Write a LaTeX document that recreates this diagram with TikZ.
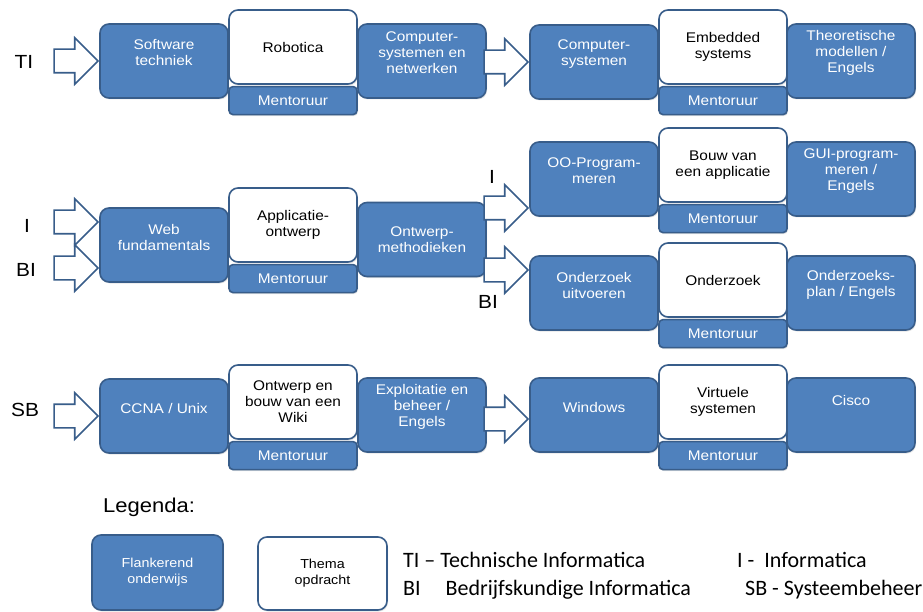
\documentclass[tikz,border=0pt]{standalone}
\usepackage{fontspec}
\setmainfont[FakeStretch=1.1]{Liberation Sans}
\newfontfamily\legfont[Ligatures=TeX]{Carlito}
\usetikzlibrary{positioning,shapes.arrows,shadows}
\definecolor{blauw}{HTML}{4F81BD}
\definecolor{rand}{HTML}{385D8A}

\begin{document}
\begin{tikzpicture}[x=1pt,y=-1pt,font=\fontsize{14}{16}\selectfont]
\tikzstyle{vak}=[rectangle, rounded corners=9pt, draw=rand, line width=1.6pt, fill=blauw, minimum width=128pt, minimum height=74pt, drop shadow={shadow xshift=1pt, shadow yshift=-1.5pt, opacity=0.2}]
\tikzstyle{vaktekst}=[text=white, align=center, yshift=8pt]
\tikzset{flank/.style={vak, label={[vaktekst]center:#1}}}
\tikzstyle{thema}=[vak, fill=white, text=black, align=center]
\tikzstyle{mentor}=[vak, rounded corners=4pt, minimum height=28pt, text=white]
\tikzstyle{pijl}=[single arrow, draw=rand, fill=white, line width=1.6pt, inner sep=11pt, single arrow head extend=11.5pt, minimum height=44pt, anchor=tip]
\tikzstyle{rij}=[font=\fontsize{19}{21}\selectfont]
\tikzstyle{leg}=[font=\legfont\fontsize{22}{24}\selectfont, anchor=west, inner sep=0pt]

	\path[use as bounding box, fill=white] (0,0) rectangle (923,612);

	% TI
	\node[flank={Software\\techniek}]				(sw)	at (164,61)	{};
	\node[thema]	(rob)	at (293,47)	{Robotica};
	\node[mentor]	(mrob)	[below=1pt of rob]	{Mentoruur};
	\node[flank={Computer-\\systemen en\\netwerken}]	(csn)	at (422,61)	{};
	\node[flank={Computer-\\systemen}]				(cs)	at (594,62)	{};
	\node[thema]	(emb)	at (723,47)	{Embedded\\systems};
	\node[mentor]	(memb)	[below=1pt of emb]	{Mentoruur};
	\node[flank={Theoretische\\modellen /\\Engels}]	(tm)	at (851,61)	{};

	% I en BI
	\node[flank={Web\\fundamentals}]				(web)	at (164,245)	{};
	\node[thema]	(app)	at (293,225)	{Applicatie-\\ontwerp};
	\node[mentor]	(mapp)	[below=1pt of app]	{Mentoruur};
	\node[vak, label={[vaktekst,yshift=-8pt]center:Ontwerp-\\methodieken}]	(om)	at (422,239.5)	{};
	\node[flank={OO-Program-\\meren}]				(oo)	at (594,179)	{};
	\node[thema]	(bva)	at (723,165)	{Bouw van\\een applicatie};
	\node[mentor]	(mbva)	[below=1pt of bva]	{Mentoruur};
	\node[flank={GUI-program-\\meren /\\Engels}]		(gui)	at (851,179)	{};
	\node[flank={Onderzoek\\uitvoeren}]			(ou)	at (594,293)	{};
	\node[thema]	(ond)	at (723,280)	{Onderzoek};
	\node[mentor]	(mond)	[below=1pt of ond]	{Mentoruur};
	\node[flank={Onderzoeks-\\plan / Engels}]		(op)	at (851,293)	{};

	% SB
	\node[flank={CCNA / Unix}]						(ccna)	at (164,416)	{};
	\node[thema]	(wiki)	at (293,402)	{Ontwerp en\\bouw van een\\Wiki};
	\node[mentor]	(mwiki)	[below=1pt of wiki]	{Mentoruur};
	\node[flank={Exploitatie en\\beheer /\\Engels}]	(eb)	at (422,415)	{};
	\node[flank={Windows}]							(win)	at (594,415)	{};
	\node[thema]	(vs)	at (723,402)	{Virtuele\\systemen};
	\node[mentor]	(mvs)	[below=1pt of vs]	{Mentoruur};
	\node[vak, label={[vaktekst,yshift=7pt]center:Cisco}]	(cis)	at (851,415)	{};

	% pijlen
	\node[pijl]	(pTI)	at (sw.west)	{};
	\node[pijl]	(pcs)	at (cs.west)	{};
	\node[pijl]	(pI)	at ([yshift=23pt]web.west)	{};
	\node[pijl]	(pBI)	at ([yshift=-23pt]web.west)	{};
	\node[pijl]	(poo)	at ([yshift=-29pt]oo.west)	{};
	\node[pijl]	(pou)	at ([yshift=23pt]ou.west)	{};
	\node[pijl]	(pSB)	at (ccna.west)	{};
	\node[pijl]	(pwin)	at ([yshift=-4pt]win.west)	{};

	\node[rij]	(lTI)	at (24,62)	{TI};
	\node[rij]	(lI)	at (27,226)	{I};
	\node[rij]	(lBI)	at (26,270)	{BI};
	\node[rij]	(lSB)	at (25,410)	{SB};
	\node[rij]	(rI)	at (492,177)	{I};
	\node[rij]	(rBI)	at (488,302)	{BI};

	% legenda
	\node[anchor=west, inner sep=0pt, font=\fontsize{20}{22}\selectfont]	(leg)	at (103,507)	{Legenda:};
	\node[vak, minimum width=131pt, minimum height=75pt, text=white, align=center, font=\fontsize{13}{16}\selectfont]	(lflank)	at (157.5,572.5)	{Flankerend\\onderwijs};
	\node[thema, minimum width=129pt, minimum height=73pt, font=\fontsize{13}{16}\selectfont]	(lthema)	at (322.5,573.5)	{Thema\\opdracht};
	\node[leg]	(tTI)	at (403,560)	{TI – Technische Informatica};
	\node[leg]	(tBI)	at (403,590)	{BI\hspace{25pt}Bedrijfskundige Informatica};
	\node[leg]	(tI)	at (737,560)	{I -\ \ Informatica};
	\node[leg]	(tSB)	at (745,590)	{SB - Systeembeheer};
\end{tikzpicture}
\end{document}
